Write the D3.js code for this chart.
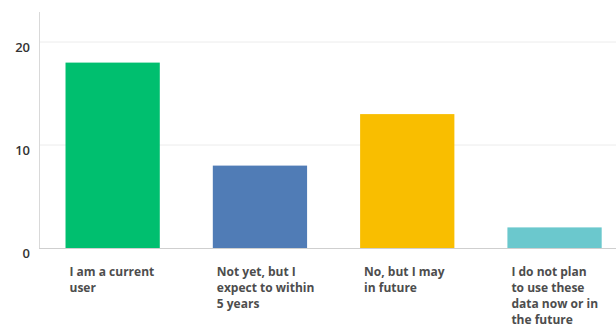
<!DOCTYPE html>
<html><head><meta charset="utf-8">
<script src="https://cdn.jsdelivr.net/npm/d3@7"></script>
<style>html,body{margin:0;padding:0;background:#fff;}</style>
</head><body>
<svg id="c" width="616" height="329"></svg>
<script>
const categories = [
  ["I am a current", "user"],
  ["Not yet, but I", "expect to within", "5 years"],
  ["No, but I may", "in future"],
  ["I do not plan", "to use these", "data now or in", "the future"]
];
const values = [18, 8, 13, 2];
const colors = ["#00BF6F", "#507CB6", "#F9BE00", "#6BC8CD"];
const yTicks = [0, 10, 20];

const svg = d3.select("#c");
const x0 = 39, baseY = 248;
const x = d3.scaleBand().domain(d3.range(categories.length)).range([x0, x0 + 4 * 147.3]).paddingInner(0.36).paddingOuter(0.18);
const y = d3.scaleLinear().domain([0, 20]).range([baseY, 42]);

svg.append("g").selectAll("line").data(yTicks.filter(d => d > 0)).join("line")
  .attr("x1", x0).attr("x2", 616).attr("y1", d => y(d)).attr("y2", d => y(d))
  .attr("stroke", "#ececec").attr("stroke-width", 1);

svg.append("line").attr("x1", x0 + 0.5).attr("x2", x0 + 0.5).attr("y1", 12).attr("y2", baseY)
  .attr("stroke", "#d9d9d9").attr("stroke-width", 1);

svg.append("g").selectAll("rect").data(values).join("rect")
  .attr("x", (d, i) => x(i)).attr("width", x.bandwidth())
  .attr("y", d => y(d)).attr("height", d => baseY - y(d))
  .attr("fill", (d, i) => colors[i]);

svg.append("line").attr("x1", x0).attr("x2", 616).attr("y1", baseY + 0.5).attr("y2", baseY + 0.5)
  .attr("stroke", "#cfcfcf").attr("stroke-width", 1);

svg.append("g").selectAll("text").data(yTicks).join("text")
  .attr("x", 30).attr("y", d => y(d) + 10)
  .attr("text-anchor", "end")
  .attr("font-family", "'Open Sans', sans-serif").attr("font-size", 13).attr("font-weight", 600)
  .attr("fill", "#333").text(d => d);

const lab = svg.append("g").selectAll("text").data(categories).join("text")
  .attr("x", (d, i) => x(i) + 4).attr("y", 276)
  .attr("font-family", "'Open Sans', sans-serif").attr("font-size", 12).attr("font-weight", 700)
  .attr("fill", "#4d4d4d");
lab.selectAll("tspan").data(d => d).join("tspan")
  .attr("x", function () { return d3.select(this.parentNode).attr("x"); })
  .attr("dy", (d, i) => i === 0 ? 0 : 16).text(d => d);
</script>
</body></html>
